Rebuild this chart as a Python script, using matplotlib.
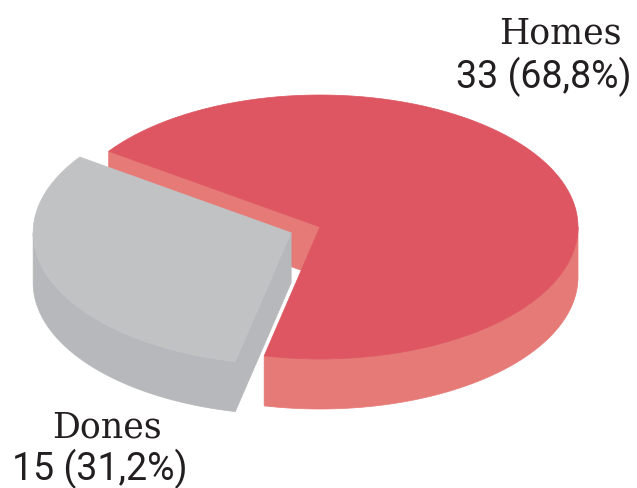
import numpy as np
import matplotlib
matplotlib.use("Agg")
import matplotlib.pyplot as plt
from matplotlib.patches import Polygon

# ---- data ----
categories = ["Homes", "Dones"]
values = [33, 15]
top_colors = ["#DD5661", "#C1C2C4"]
side_colors = ["#E67A77", "#B7B8BB"]
explode = [0.0, 0.12]

# ---- layout ----
W, H = 637, 489
fig = plt.figure(figsize=(6.37, 4.89), dpi=100)
ax = fig.add_axes([0, 0, 1, 1])
ax.set_xlim(0, W)
ax.set_ylim(H, 0)
ax.axis("off")

cx, cy, rx, ry, depth = 320, 228, 258, 132, 50
start = -102.5

total = sum(values)
fracs = np.array(values, dtype=float) / total
angles = start + 360 * np.concatenate([[0], np.cumsum(fracs)])


def rim(ox, oy, t0, t1, dz=0, n=120):
    t = np.radians(np.linspace(t0, t1, n))
    return np.column_stack([ox + rx * np.cos(t), oy - ry * np.sin(t) + dz])


front_intervals = [(-180, 0), (180, 360), (540, 720)]

for i in range(len(values)):
    t0, t1 = angles[i], angles[i + 1]
    mid = np.radians((t0 + t1) / 2)
    ox = cx + explode[i] * rx * np.cos(mid)
    oy = cy - explode[i] * ry * np.sin(mid)
    # radial walls
    for t, nrm in [(t0, t0 - 90), (t1, t1 + 90)]:
        if np.sin(np.radians(nrm)) < 0:
            p = rim(ox, oy, t, t, n=1)[0]
            poly = [(ox, oy), tuple(p), (p[0], p[1] + depth), (ox, oy + depth)]
            ax.add_patch(Polygon(poly, closed=True, facecolor=side_colors[i],
                                 edgecolor=side_colors[i], lw=0.5, zorder=1 + 3 * i))
    # outer rim walls
    for lo, hi in front_intervals:
        a0, a1 = max(t0, lo), min(t1, hi)
        if a1 > a0:
            topc = rim(ox, oy, a0, a1)
            botc = rim(ox, oy, a1, a0, dz=depth)
            ax.add_patch(Polygon(np.vstack([topc, botc]), closed=True,
                                 facecolor=side_colors[i], edgecolor=side_colors[i],
                                 lw=0.5, zorder=1 + 3 * i))
    # top
    arc = rim(ox, oy, t0, t1, n=240)
    ax.add_patch(Polygon(np.vstack([[ox, oy], arc]), closed=True,
                         facecolor=top_colors[i], edgecolor=top_colors[i],
                         lw=0.5, zorder=2 + 3 * i))

# ---- labels ----
def fmt(v, f):
    return f"{v} ({100 * f:.1f}%)".replace(".", ",")

label_pos = [
    dict(name=(622, 43), num=(632, 88), ha="right"),
    dict(name=(52, 437), num=(12, 480), ha="left"),
]
for i, cat in enumerate(categories):
    lp = label_pos[i]
    ax.text(*lp["name"], cat, ha=lp["ha"], va="baseline", fontsize=25,
            family="DejaVu Serif", color="#231F20")
    ax.text(*lp["num"], fmt(values[i], fracs[i]), ha=lp["ha"], va="baseline",
            fontsize=27, family="Roboto", color="#231F20")

fig.savefig("out.png", dpi=100)
